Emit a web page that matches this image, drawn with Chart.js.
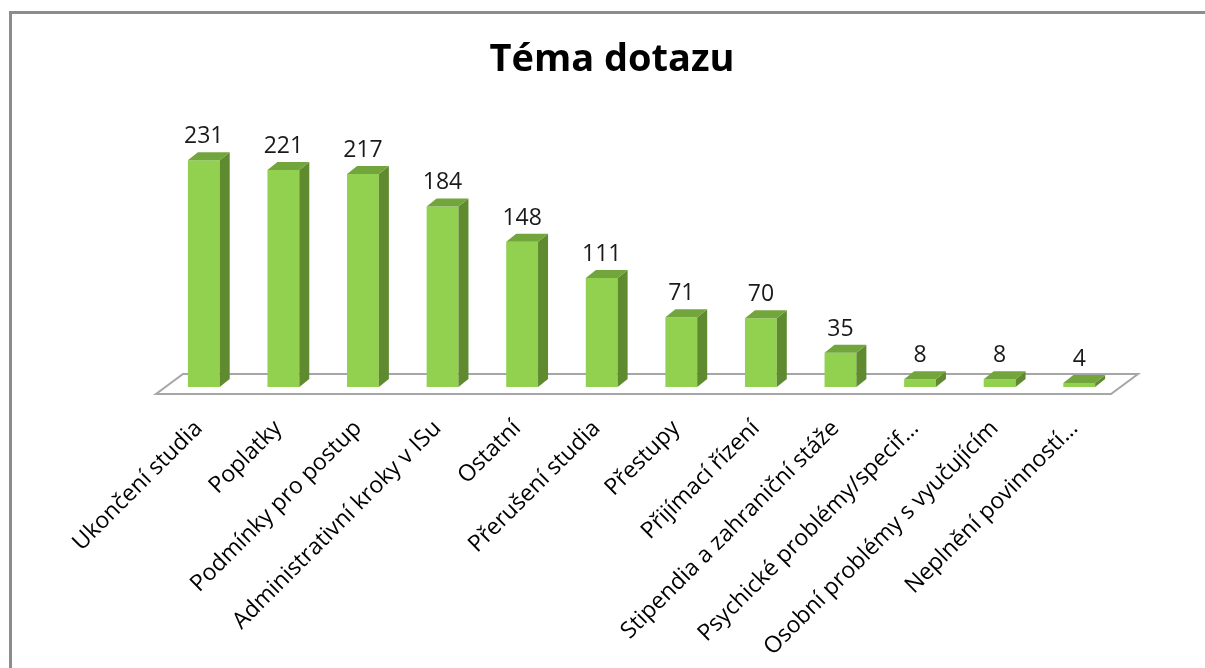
<!DOCTYPE html>
<html lang="cs">
<head>
    <meta charset="UTF-8">
    <title>Téma dotazu</title>
    <script src="https://cdn.jsdelivr.net/npm/chart.js"></script>
    <style>
        html, body { margin: 0; padding: 0; background: #fff; overflow: hidden; }
        #frame { position: absolute; left: 9px; top: 11px; width: 1300px; height: 800px;
                 border-left: 3px solid #8c8c8c; border-top: 3px solid #8c8c8c; }
        #chart { position: absolute; left: 0; top: 0; }
    </style>
</head>
<body>
    <div id="frame"></div>
    <canvas id="chart" width="1205" height="668"></canvas>
    <script>
        const categories = [
            'Ukončení studia',
            'Poplatky',
            'Podmínky pro postup',
            'Administrativní kroky v ISu',
            'Ostatní',
            'Přerušení studia',
            'Přestupy',
            'Přijímací řízení',
            'Stipendia a zahraniční stáže',
            'Psychické problémy/specif…',
            'Osobní problémy s vyučujícím',
            'Neplnění povinností…'
        ];
        const values = [231, 221, 217, 184, 148, 111, 71, 70, 35, 8, 8, 4];
        const yMax = 250;

        // 3D look: depth of the bar sides and of the floor
        const depth = { dx: 10, dy: 8 };

        const floor3d = {
            id: 'floor3d',
            beforeDatasetsDraw(chart) {
                const a = chart.chartArea;
                const ctx = chart.ctx;
                const fy = a.bottom + 7, by = a.bottom - 13;
                const fl = a.left - 8, fr = a.right - 8;
                ctx.save();
                ctx.beginPath();
                ctx.moveTo(fl, fy);
                ctx.lineTo(fr, fy);
                ctx.lineTo(fr + 27, by);
                ctx.lineTo(fl + 27, by);
                ctx.closePath();
                ctx.fillStyle = '#ffffff';
                ctx.fill();
                ctx.lineWidth = 2;
                ctx.strokeStyle = '#a6a6a6';
                ctx.stroke();
                ctx.restore();
            }
        };

        const bars3d = {
            id: 'bars3d',
            afterDatasetsDraw(chart) {
                const ctx = chart.ctx;
                const meta = chart.getDatasetMeta(0);
                ctx.save();
                meta.data.forEach((bar, i) => {
                    const p = bar.getProps(['x', 'y', 'base', 'width'], true);
                    const l = p.x - p.width / 2, r = p.x + p.width / 2;
                    // side
                    ctx.beginPath();
                    ctx.moveTo(r, p.y);
                    ctx.lineTo(r + depth.dx, p.y - depth.dy);
                    ctx.lineTo(r + depth.dx, p.base - depth.dy);
                    ctx.lineTo(r, p.base);
                    ctx.closePath();
                    ctx.fillStyle = '#5f8a30';
                    ctx.fill();
                    // top
                    ctx.beginPath();
                    ctx.moveTo(l, p.y);
                    ctx.lineTo(l + depth.dx, p.y - depth.dy);
                    ctx.lineTo(r + depth.dx, p.y - depth.dy);
                    ctx.lineTo(r, p.y);
                    ctx.closePath();
                    ctx.fillStyle = '#72a53c';
                    ctx.fill();
                    // value label
                    ctx.fillStyle = '#1a1a1a';
                    ctx.font = '23px "Open Sans"';
                    ctx.textAlign = 'center';
                    ctx.textBaseline = 'alphabetic';
                    ctx.fillText(String(values[i]), p.x, p.y - 17);
                });
                ctx.restore();
            }
        };

        new Chart(document.getElementById('chart'), {
            type: 'bar',
            data: {
                labels: categories,
                datasets: [{
                    data: values,
                    backgroundColor: '#92d050',
                    borderWidth: 0,
                    barPercentage: 0.4,
                    categoryPercentage: 1
                }]
            },
            options: {
                responsive: false,
                animation: false,
                layout: { padding: { left: 105, right: 86, top: 0, bottom: 0 } },
                plugins: {
                    legend: { display: false },
                    tooltip: { enabled: false },
                    title: {
                        display: true,
                        text: 'Téma dotazu',
                        color: '#000',
                        font: { family: 'Open Sans', size: 38, weight: 'bold', lineHeight: 1.2 },
                        padding: { top: 37, bottom: 59 }
                    }
                },
                scales: {
                    x: {
                        grid: { display: false, drawTicks: false },
                        border: { display: false },
                        ticks: {
                            autoSkip: false,
                            maxRotation: 45,
                            minRotation: 45,
                            padding: 28,
                            labelOffset: -5,
                            color: '#000',
                            font: { family: 'Open Sans', size: 23 }
                        },
                        afterFit(s) { s.height = 281; }
                    },
                    y: {
                        min: 0,
                        max: yMax,
                        grid: { display: false, drawTicks: false },
                        border: { display: false },
                        ticks: { display: false },
                        afterFit(s) { s.width = 59; }
                    }
                }
            },
            plugins: [floor3d, bars3d]
        });
    </script>
</body>
</html>
